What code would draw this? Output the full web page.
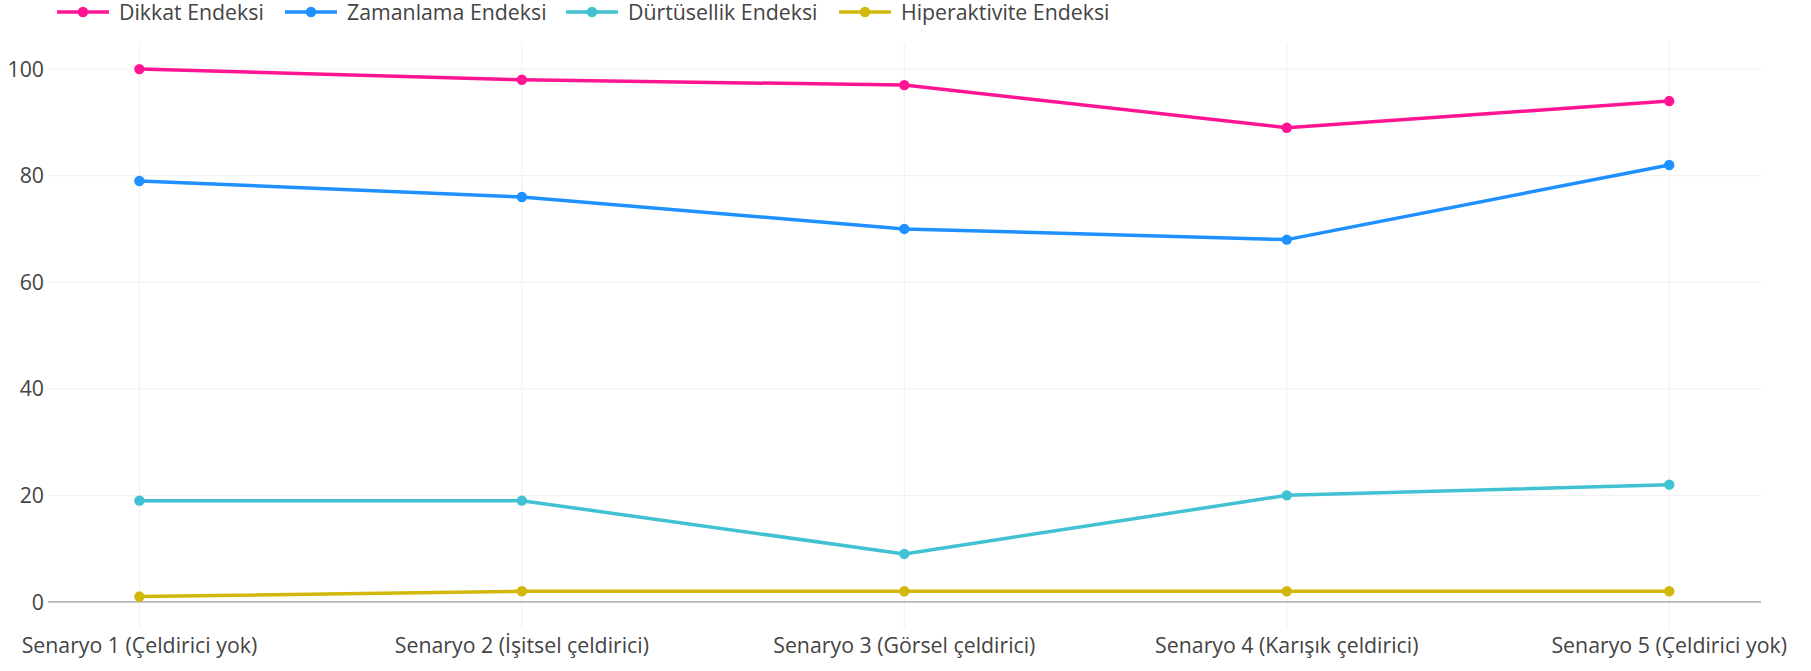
<!DOCTYPE html>
<html>
<head>
<meta charset="utf-8">
<script src="https://cdn.jsdelivr.net/npm/d3@7"></script>
<style>
  body { margin: 0; background: #fff; }
  text { font-family: 'Open Sans', 'Noto Sans', sans-serif; fill: #444; }
</style>
</head>
<body>
<div id="chart-container"></div>
<script>
const scenarios = [
  'Senaryo 1 (Çeldirici yok)',
  'Senaryo 2 (İşitsel çeldirici)',
  'Senaryo 3 (Görsel çeldirici)',
  'Senaryo 4 (Karışık çeldirici)',
  'Senaryo 5 (Çeldirici yok)'
]
const seriesNames = ['Dikkat Endeksi', 'Zamanlama Endeksi', 'Dürtüsellik Endeksi', 'Hiperaktivite Endeksi']
const dikkat = [100, 98, 97, 89, 94]
const zamanlama = [79, 76, 70, 68, 82]
const durtusellik = [19, 19, 9, 20, 22]
const hiperaktivite = [1, 2, 2, 2, 2]
const yTicks = [0, 20, 40, 60, 80, 100]

const colors = ['#ff1493', '#1e90ff', '#40c2d3', '#d2b80c']

const width = 1811
const height = 671
const margin = { top: 43, right: 50, bottom: 43, left: 48 }
const fontSize = '21.3px'

const series = [dikkat, zamanlama, durtusellik, hiperaktivite].map((values, i) => ({
  name: seriesNames[i],
  color: colors[i],
  values
}))

const x = d3
  .scaleLinear()
  .domain([-0.239, scenarios.length - 1 + 0.24])
  .range([margin.left, width - margin.right])

const y = d3
  .scaleLinear()
  .domain([-4.9, 104.9])
  .range([height - margin.bottom, margin.top])

const svg = d3
  .select('#chart-container')
  .append('svg')
  .attr('width', width)
  .attr('height', height)

// grid
svg
  .append('g')
  .selectAll('line')
  .data(scenarios)
  .enter()
  .append('line')
  .attr('x1', (d, i) => x(i))
  .attr('x2', (d, i) => x(i))
  .attr('y1', margin.top)
  .attr('y2', height - margin.bottom)
  .attr('stroke', '#f0f0f0')
  .attr('stroke-width', 1)

svg
  .append('g')
  .selectAll('line')
  .data(yTicks)
  .enter()
  .append('line')
  .attr('x1', margin.left)
  .attr('x2', width - margin.right)
  .attr('y1', d => y(d))
  .attr('y2', d => y(d))
  .attr('stroke', d => (d === 0 ? '#9a9a9a' : '#f0f0f0'))
  .attr('stroke-width', d => (d === 0 ? 1.4 : 1))

// y tick labels
svg
  .append('g')
  .selectAll('text')
  .data(yTicks)
  .enter()
  .append('text')
  .attr('x', margin.left - 4)
  .attr('y', d => y(d))
  .attr('dy', '0.36em')
  .attr('text-anchor', 'end')
  .style('font-size', fontSize)
  .text(d => d)

// x tick labels
svg
  .append('g')
  .selectAll('text')
  .data(scenarios)
  .enter()
  .append('text')
  .attr('x', (d, i) => x(i))
  .attr('y', 653)
  .attr('text-anchor', 'middle')
  .style('font-size', fontSize)
  .text(d => d)

// lines + markers
const line = d3
  .line()
  .x((d, i) => x(i))
  .y(d => y(d))

const groups = svg.append('g').selectAll('g').data(series).enter().append('g')

groups
  .append('path')
  .attr('d', d => line(d.values))
  .attr('fill', 'none')
  .attr('stroke', d => d.color)
  .attr('stroke-width', 3.5)
  .attr('stroke-linejoin', 'round')

groups
  .selectAll('circle')
  .data(d => d.values.map(v => ({ v, color: d.color })))
  .enter()
  .append('circle')
  .attr('cx', (d, i) => x(i))
  .attr('cy', d => y(d.v))
  .attr('r', 5.2)
  .attr('fill', d => d.color)

// legend
const legendX = [57, 285, 566, 839]
const legend = svg
  .append('g')
  .selectAll('g')
  .data(series)
  .enter()
  .append('g')
  .attr('transform', (d, i) => `translate(${legendX[i]},12)`)

legend
  .append('line')
  .attr('x1', 0)
  .attr('x2', 52)
  .attr('stroke', d => d.color)
  .attr('stroke-width', 3.5)

legend
  .append('circle')
  .attr('cx', 26)
  .attr('r', 5.2)
  .attr('fill', d => d.color)

legend
  .append('text')
  .attr('x', 62)
  .attr('dy', '0.36em')
  .style('font-size', fontSize)
  .text(d => d.name)
</script>
</body>
</html>
